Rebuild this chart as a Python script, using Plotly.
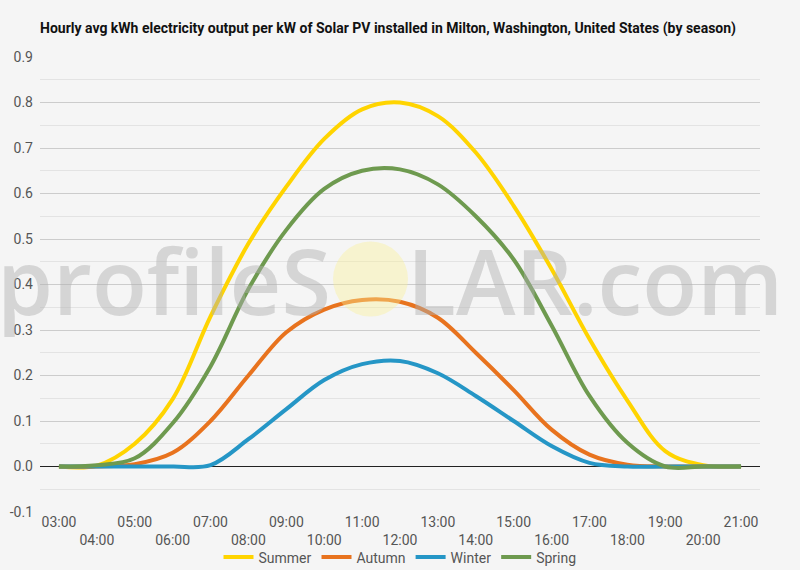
import plotly.graph_objects as go

hours = list(range(3, 22))
hour_labels = [f"{h:02d}:00" for h in hours]

summer = [0.0, 0.002, 0.05, 0.148, 0.33, 0.49, 0.615, 0.72, 0.785, 0.80, 0.77, 0.69, 0.573, 0.434, 0.28, 0.145, 0.034, 0.003, 0.0]
autumn = [0.0, 0.0, 0.005, 0.03, 0.10, 0.20, 0.295, 0.345, 0.366, 0.362, 0.327, 0.25, 0.168, 0.081, 0.026, 0.004, 0.0, 0.0, 0.0]
winter = [0.0, 0.0, 0.0, 0.0, 0.003, 0.06, 0.126, 0.19, 0.225, 0.232, 0.205, 0.155, 0.10, 0.045, 0.008, 0.0, 0.0, 0.0, 0.0]
spring = [0.0, 0.003, 0.018, 0.095, 0.22, 0.39, 0.52, 0.61, 0.65, 0.653, 0.62, 0.55, 0.455, 0.31, 0.155, 0.052, 0.0, 0.0, 0.0]

series = [
    ("Summer", summer, "#FFD400"),
    ("Autumn", autumn, "#E8731E"),
    ("Winter", winter, "#2596C6"),
    ("Spring", spring, "#6E9A4F"),
]

title_text = ("Hourly avg kWh electricity output per kW of Solar PV installed in "
              "Milton, Washington, United States (by season)")

fig = go.Figure()
for name, vals, col in series:
    fig.add_trace(go.Scatter(
        x=hours, y=vals, name=name, mode="lines",
        line=dict(color=col, width=4, shape="spline", smoothing=1.0),
    ))

ticktext = [lab if i % 2 == 0 else "<br>" + lab for i, lab in enumerate(hour_labels)]

bg = "#F5F5F5"
fig.update_layout(
    width=800, height=570,
    paper_bgcolor=bg, plot_bgcolor=bg,
    margin=dict(l=40, r=40, t=57, b=58, autoexpand=False),
    font=dict(family="Roboto", size=14, color="#555555"),
    title=dict(text="<b>" + title_text + "</b>", xref="paper", x=0, xanchor="left",
               yref="container", y=1 - 28 / 570, yanchor="middle",
               font=dict(family="Roboto", size=14, color="#111111")),
    showlegend=True,
    legend=dict(orientation="h", x=0.5, xanchor="center", y=-0.1, yanchor="middle",
                font=dict(size=14, color="#555555"), itemwidth=30,
                bgcolor="rgba(0,0,0,0)"),
    xaxis=dict(range=[2.5, 21.5], tickmode="array", tickvals=hours, ticktext=ticktext,
               showgrid=False, zeroline=False, showline=False, ticks="", automargin=False,
               tickfont=dict(size=14, color="#555555")),
    yaxis=dict(range=[-0.1, 0.9], tickmode="array",
               tickvals=[-0.1, 0.0, 0.1, 0.2, 0.3, 0.4, 0.5, 0.6, 0.7, 0.8, 0.9],
               ticktext=["-0.1", "0.0", "0.1", "0.2", "0.3", "0.4", "0.5", "0.6", "0.7", "0.8", "0.9"],
               showgrid=True, gridcolor="#CCCCCC", gridwidth=1,
               minor=dict(dtick=0.05, showgrid=True, gridcolor="#E3E3E3", gridwidth=1, ticks=""),
               zeroline=True, zerolinecolor="#222222", zerolinewidth=1,
               showline=False, ticks="", ticklabelstandoff=6, automargin=False,
               tickfont=dict(size=14, color="#555555")),
)

# watermark
fig.add_shape(type="circle", xref="paper", yref="paper",
              x0=(333 - 40) / 720, x1=(408 - 40) / 720,
              y0=(512.5 - 317) / 455, y1=(512.5 - 242) / 455,
              fillcolor="rgba(250,240,150,0.4)", line=dict(width=0), layer="above")
wm_font = dict(family="Open Sans", size=90, weight=600, color="rgba(175,175,175,0.45)")
fig.add_annotation(text="profileS", xref="paper", yref="paper",
                   x=(333 - 40) / 720, xanchor="right", y=(512.5 - 280) / 455, yanchor="middle",
                   showarrow=False, font=wm_font)
fig.add_annotation(text="LAR.com", xref="paper", yref="paper",
                   x=(405 - 40) / 720, xanchor="left", y=(512.5 - 280) / 455, yanchor="middle",
                   showarrow=False, font=wm_font)

fig.write_html("out.html",
               config={"displayModeBar": False},
               post_script="document.body.style.margin='0';document.body.style.overflow='hidden';"
                           "document.body.style.background='#F5F5F5';")
